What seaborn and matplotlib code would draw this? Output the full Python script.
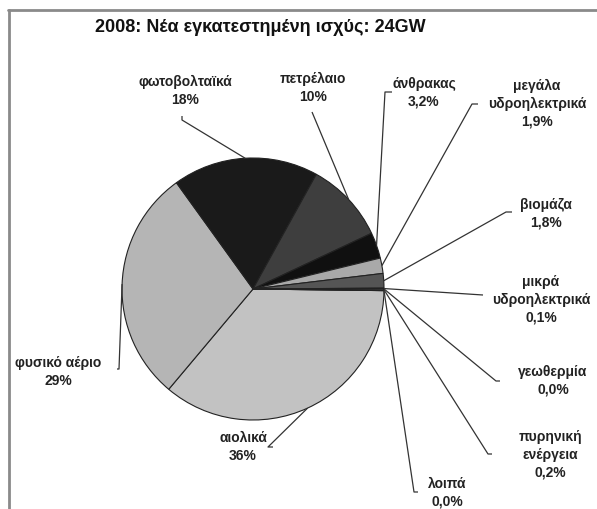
import numpy as np
import matplotlib
matplotlib.use("Agg")
import matplotlib.pyplot as plt
import seaborn as sns

# == DATA ==
title = "2008: Νέα εγκατεστημένη ισχύς: 24GW"
sources = ["αιολικά", "φυσικό αέριο", "φωτοβολταϊκά", "πετρέλαιο", "άνθρακας",
           "μεγάλα\nυδροηλεκτρικά", "βιομάζα", "μικρά\nυδροηλεκτρικά",
           "γεωθερμία", "πυρηνική\nενέργεια", "λοιπά"]
shares = [36, 29, 18, 10, 3.2, 1.9, 1.8, 0.1, 0.0, 0.2, 0.0]
share_labels = ["36%", "29%", "18%", "10%", "3,2%", "1,9%", "1,8%",
                "0,1%", "0,0%", "0,2%", "0,0%"]

# == STYLE / LAYOUT (pixel coords, y measured from top) ==
greys = ["#c2c2c2", "#b5b5b5", "#1a1a1a", "#3e3e3e", "#101010",
         "#a9a9a9", "#555555", "#2a2a2a", "#777777", "#444444", "#888888"]
W, H = 597, 510
cx, cy, rad = 253, 290, 131
# text centre, stub end (near text), elbow
label_pos = [(243, 447), (58, 372), (185, 91), (313, 88), (424, 93),
             (537, 104), (546, 214), (541, 300), (553, 381), (550, 455), (447, 493)]
stub = [(273, 448), (117, 370), (182, 117), (312, 113), (392, 93),
        (478, 105), (512, 213), (483, 296), (500, 382), (492, 455), (418, 493)]
elbow = [(268, 448), (119, 370), (182, 121), (312, 113), (385, 93),
         (472, 105), (506, 213), (483, 296), (496, 382), (488, 455), (414, 493)]


def Y(y):
    return H - y


sns.set_theme(style="white")
plt.rcParams['font.family'] = ['Liberation Sans', 'DejaVu Sans']

fig = plt.figure(figsize=(W / 100, H / 100), dpi=100)
ax = fig.add_axes([0, 0, 1, 1])

start = -0.7
wedges, _ = ax.pie(shares, colors=greys, startangle=start, counterclock=False,
                   center=(cx, Y(cy)), radius=rad,
                   wedgeprops=dict(edgecolor="#222222", linewidth=0.8))

ax.set_xlim(0, W)
ax.set_ylim(0, H)
ax.set_aspect('equal')
ax.axis('off')

# leader lines + labels
for w, name, pct, (tx, ty), (sx, sy), (ex, ey) in zip(
        wedges, sources, share_labels, label_pos, stub, elbow):
    mid = np.deg2rad((w.theta1 + w.theta2) / 2)
    px = cx + rad * np.cos(mid)
    py = Y(cy) + rad * np.sin(mid)
    ax.plot([px, ex, sx], [py, Y(ey), Y(sy)], color="#333333", lw=0.9,
            solid_capstyle="butt")
    ax.text(tx, Y(ty), name + "\n" + pct, ha="center", va="center",
            fontsize=10, fontweight="bold", color="#222222", linespacing=1.35)

ax.text(260, Y(28), title, ha="center", va="center", fontsize=13,
        fontweight="bold", color="#111111")

# chart frame (top and left edges visible)
ax.plot([8, W], [Y(11), Y(11)], color="#8a8a8a", lw=2)
ax.plot([9, 9], [Y(11), 0], color="#8a8a8a", lw=2)

plt.savefig("out.png", dpi=100)
plt.close()
